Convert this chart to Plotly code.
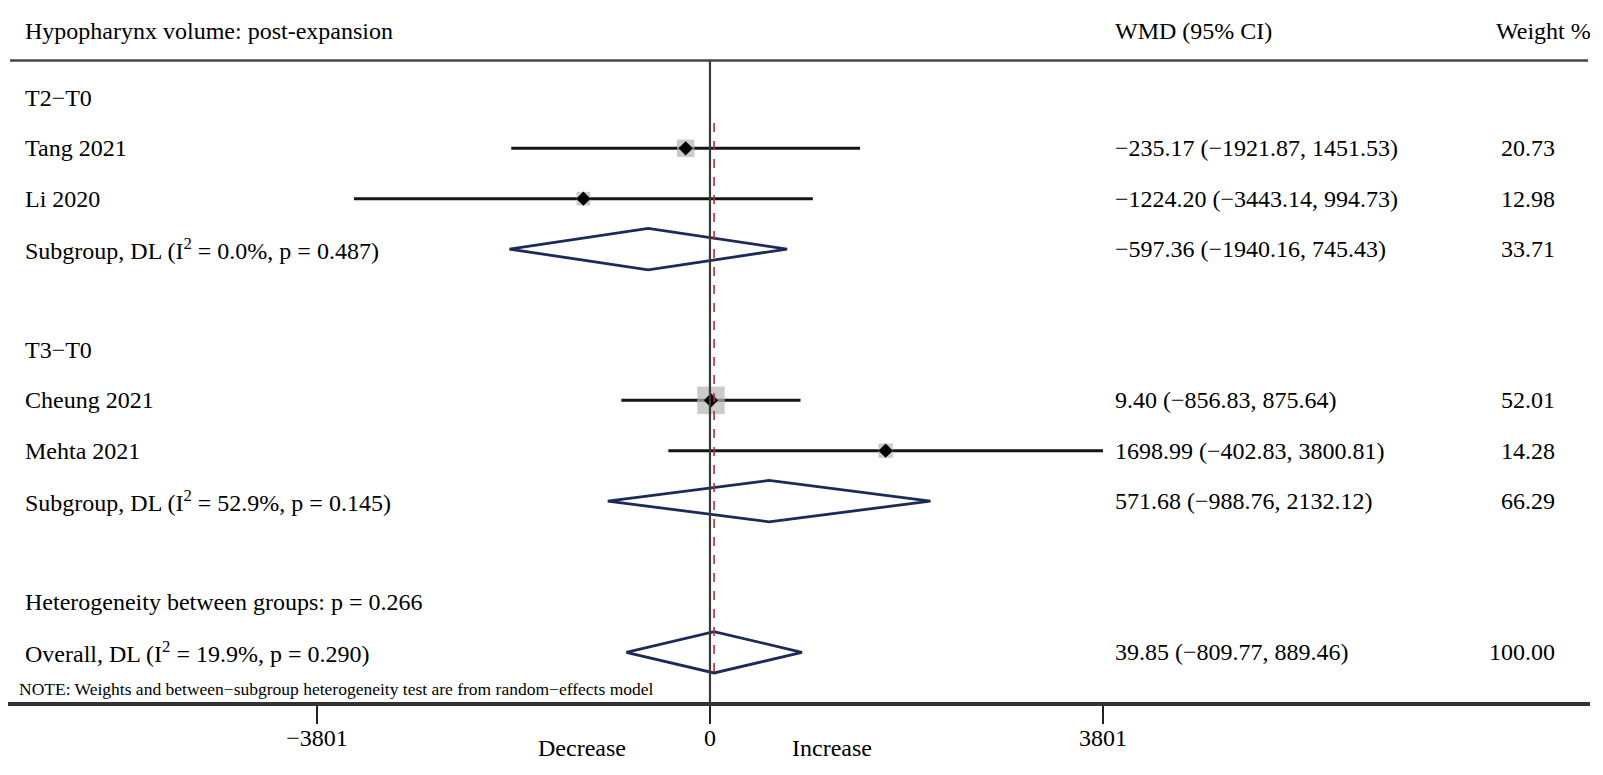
import plotly.graph_objects as go

# ---- data ----
study_labels = ["Tang 2021", "Li 2020", "Cheung 2021", "Mehta 2021"]
study_rows = [2, 3, 7, 8]
study_est = [-235.17, -1224.20, 9.40, 1698.99]
study_lo = [-1921.87, -3443.14, -856.83, -402.83]
study_hi = [1451.53, 994.73, 875.64, 3800.81]
study_wt = [20.73, 12.98, 52.01, 14.28]

pooled_labels = ["Subgroup, DL (I<sup>2</sup> = 0.0%, p = 0.487)",
                 "Subgroup, DL (I<sup>2</sup> = 52.9%, p = 0.145)",
                 "Overall, DL (I<sup>2</sup> = 19.9%, p = 0.290)"]
pooled_rows = [4, 9, 12]
pooled_est = [-597.36, 571.68, 39.85]
pooled_lo = [-1940.16, -988.76, -809.77]
pooled_hi = [745.43, 2132.12, 889.46]
pooled_wt = [33.71, 66.29, 100.00]

group_labels = ["T2\u2212T0", "T3\u2212T0"]
group_rows = [1, 6]

het_label = "Heterogeneity between groups: p = 0.266"
het_row = 11

title_text = "Hypopharynx volume: post-expansion"
note_text = "NOTE: Weights and between\u2212subgroup heterogeneity test are from random\u2212effects model"
tick_vals = [-3801, 0, 3801]
tick_text = ["\u22123801", "0", "3801"]


def fmt(v):
    return f"{v:.2f}".replace("-", "\u2212")


FONT = "Liberation Serif, Times New Roman, serif"
FS = 24
Y_TOP, Y_BOT = -0.784, 12.986
X_MIN, X_MAX = -6789, 8511

fig = go.Figure()

# confidence interval lines
for r, lo, hi in zip(study_rows, study_lo, study_hi):
    fig.add_trace(go.Scatter(x=[lo, hi], y=[r, r], mode='lines',
                             line=dict(color='#151515', width=3), hoverinfo='skip'))

# weight boxes (area ~ weight)
fig.add_trace(go.Scatter(
    x=study_est, y=study_rows, mode='markers',
    marker=dict(symbol='square', color='#b5b5b5',
                size=[27.5 * (w / 52.01) ** 0.5 for w in study_wt], line=dict(width=0)),
    hoverinfo='skip'))

# point estimates
fig.add_trace(go.Scatter(
    x=study_est, y=study_rows, mode='markers',
    marker=dict(symbol='diamond', color='black', size=11), hoverinfo='skip'))

# pooled diamonds
h = 0.41
for r, est, lo, hi in zip(pooled_rows, pooled_est, pooled_lo, pooled_hi):
    fig.add_trace(go.Scatter(
        x=[lo, est, hi, est, lo], y=[r, r - h, r, r + h, r], mode='lines',
        line=dict(color='#1c2a5a', width=2.8), hoverinfo='skip'))

# reference lines
fig.add_shape(type='line', x0=0, x1=0, y0=0.258, y1=Y_BOT,
              line=dict(color='#3a3a3a', width=2.2))
fig.add_shape(type='line', x0=pooled_est[-1], x1=pooled_est[-1], y0=1.5, y1=12.46,
              line=dict(color='#b03030', width=1.6, dash='dash'))
fig.add_shape(type='line', xref='paper', x0=0.0013, x1=0.9987, y0=0.258, y1=0.258,
              line=dict(color='#444444', width=2.5))

ann = []


def text(x, y, s, anchor='left', size=FS, xref='paper', yref='y'):
    ann.append(dict(x=x, y=y, xref=xref, yref=yref, text=s, showarrow=False,
                    xanchor=anchor, yanchor='middle',
                    font=dict(family=FONT, size=size, color='black')))


LABEL_X = 0.0092
WMD_X = 0.6982
WT_X = 0.9791

# header
text(LABEL_X, -0.327, title_text)
text(WMD_X, -0.327, "WMD (95% CI)")
text(0.9393, -0.327, "Weight %")

for s, r in zip(group_labels, group_rows):
    text(LABEL_X, r, s)

for s, r, est, lo, hi, w in zip(study_labels, study_rows, study_est, study_lo, study_hi, study_wt):
    text(LABEL_X, r, s)
    text(WMD_X, r, f"{fmt(est)} ({fmt(lo)}, {fmt(hi)})")
    text(WT_X, r, f"{w:.2f}", anchor='right')

for s, r, est, lo, hi, w in zip(pooled_labels, pooled_rows, pooled_est, pooled_lo, pooled_hi, pooled_wt):
    text(LABEL_X, r, s)
    text(WMD_X, r, f"{fmt(est)} ({fmt(lo)}, {fmt(hi)})")
    text(WT_X, r, f"{w:.2f}", anchor='right')

text(LABEL_X, het_row, het_label)
text(0.006, 12.72, note_text, size=17.5)

# direction labels under the axis
text(-1241, -0.066, "Decrease", anchor='center', xref='x', yref='paper')
text(1180, -0.066, "Increase", anchor='center', xref='x', yref='paper')

fig.update_layout(
    width=1587, height=759,
    margin=dict(l=0, r=5, t=0, b=65),
    plot_bgcolor='white', paper_bgcolor='white',
    showlegend=False,
    annotations=ann,
    xaxis=dict(range=[X_MIN, X_MAX], showgrid=False, zeroline=False,
               showline=True, linecolor='#333333', linewidth=4,
               ticks='outside', ticklen=18, tickwidth=2, tickcolor='#222222',
               tickvals=tick_vals, ticktext=tick_text, ticklabelstandoff=-7,
               tickfont=dict(family=FONT, size=FS, color='black'), fixedrange=True),
    yaxis=dict(range=[Y_BOT, Y_TOP], visible=False, fixedrange=True),
)

fig.write_html("out.html")
